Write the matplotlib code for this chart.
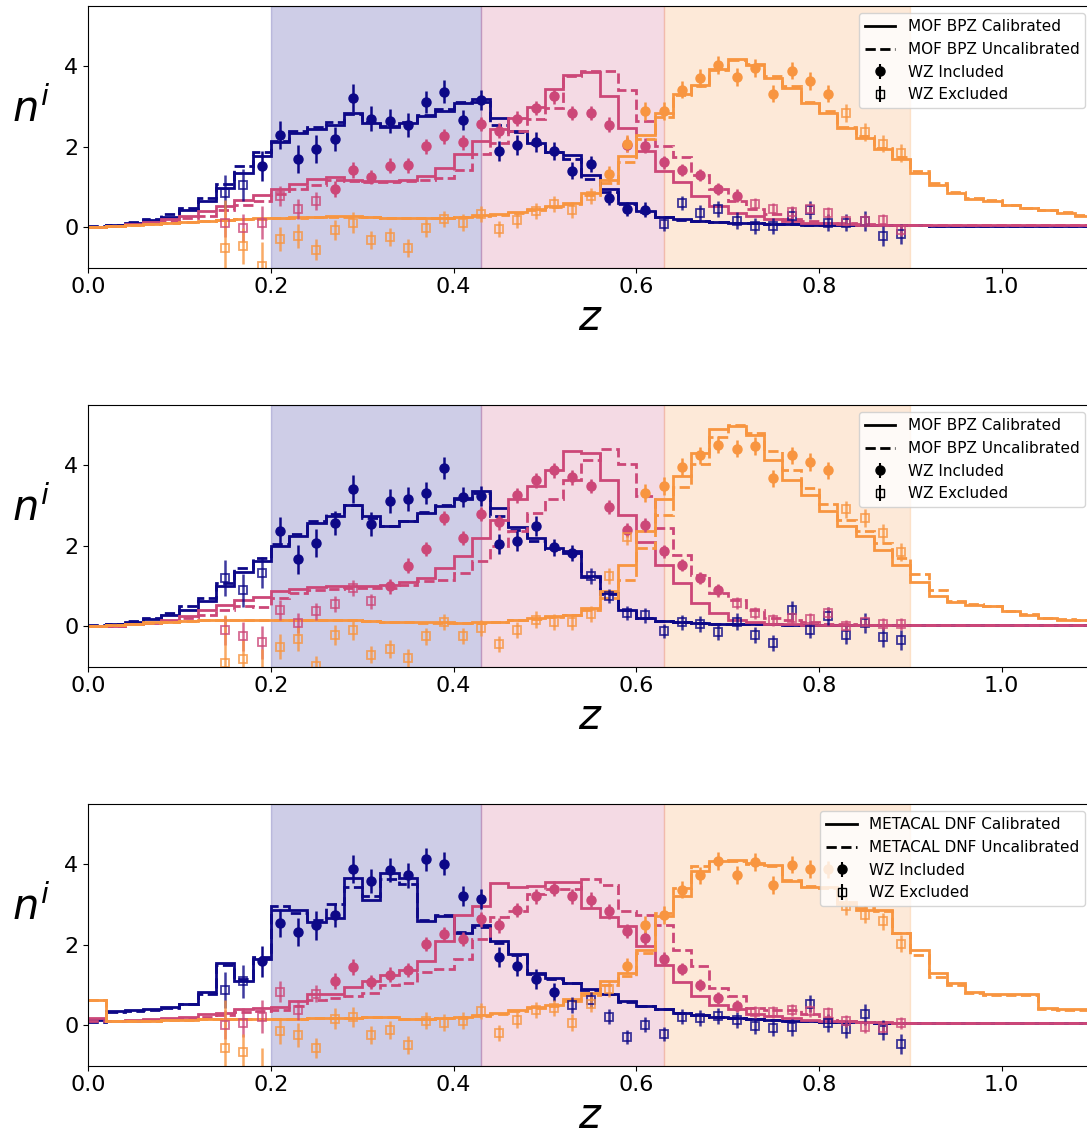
import numpy as np
import matplotlib
matplotlib.use('Agg')
import matplotlib.pyplot as plt

# histogram bin edges (width 0.02) and WZ redshifts
edges = np.round(np.arange(0.0, 1.1201, 0.02), 2)
wz_z = np.round(np.arange(0.15, 0.8901, 0.02), 2)

tomo_lo = [0.20, 0.43, 0.63]
tomo_hi = [0.43, 0.63, 0.90]
colors = ['#0d0887', '#cc4778', '#f89540']

# ---- MOF BPZ (panel 1) ----
p1_cal = [
    [0.02, 0.06, 0.12, 0.18, 0.25, 0.42, 0.65, 0.98, 1.35, 1.76,
     2.11, 2.34, 2.44, 2.55, 2.84, 2.59, 2.49, 2.58, 2.76, 2.88,
     3.09, 3.19, 2.72, 2.39, 2.10, 1.88, 1.80, 1.31, 0.94, 0.60,
     0.40, 0.26, 0.20, 0.16, 0.13, 0.12, 0.10, 0.09, 0.08, 0.07,
     0.06, 0.06, 0.05, 0.05, 0.05, 0.05, 0.04, 0.04, 0.04, 0.04,
     0.04, 0.04, 0.04, 0.04, 0.04, 0.04],
    [0.01, 0.04, 0.08, 0.13, 0.20, 0.29, 0.40, 0.54, 0.69, 0.81,
     0.95, 1.08, 1.20, 1.25, 1.18, 1.14, 1.14, 1.18, 1.28, 1.47,
     1.82, 2.14, 2.43, 2.72, 2.99, 3.44, 3.77, 3.85, 3.25, 2.47,
     1.89, 1.39, 1.12, 0.77, 0.52, 0.36, 0.27, 0.21, 0.15, 0.12,
     0.10, 0.08, 0.07, 0.06, 0.05, 0.05, 0.05, 0.05, 0.05, 0.05,
     0.05, 0.05, 0.05, 0.05, 0.05, 0.05],
    [0.01, 0.03, 0.06, 0.08, 0.11, 0.14, 0.17, 0.19, 0.21, 0.23,
     0.24, 0.25, 0.26, 0.27, 0.27, 0.25, 0.24, 0.23, 0.23, 0.24,
     0.26, 0.30, 0.33, 0.38, 0.45, 0.52, 0.60, 0.85, 1.18, 1.76,
     2.30, 2.84, 3.30, 3.54, 3.92, 4.18, 4.04, 3.71, 3.46, 3.09,
     2.84, 2.47, 2.22, 1.95, 1.70, 1.35, 1.06, 0.85, 0.70, 0.66,
     0.55, 0.48, 0.42, 0.36, 0.29, 0.23],
]
p1_uncal = [
    [0.03, 0.07, 0.14, 0.21, 0.32, 0.48, 0.72, 1.08, 1.52, 1.86,
     2.14, 2.38, 2.48, 2.62, 2.82, 2.62, 2.52, 2.62, 2.80, 2.94,
     3.12, 3.12, 2.55, 2.36, 2.08, 1.86, 1.70, 1.20, 0.88, 0.57,
     0.38, 0.25, 0.19, 0.15, 0.13, 0.11, 0.10, 0.09, 0.08, 0.07,
     0.06, 0.06, 0.05, 0.05, 0.05, 0.05, 0.04, 0.04, 0.04, 0.04,
     0.04, 0.04, 0.04, 0.04, 0.04, 0.04],
    [0.01, 0.03, 0.06, 0.10, 0.15, 0.23, 0.29, 0.42, 0.55, 0.65,
     0.84, 0.95, 1.06, 1.18, 1.14, 1.12, 1.12, 1.14, 1.18, 1.22,
     1.43, 1.81, 2.10, 2.39, 2.68, 2.96, 3.75, 3.89, 3.89, 3.42,
     2.63, 2.01, 1.75, 1.30, 0.95, 0.65, 0.45, 0.32, 0.22, 0.16,
     0.12, 0.10, 0.08, 0.07, 0.06, 0.05, 0.05, 0.05, 0.05, 0.05,
     0.05, 0.05, 0.05, 0.05, 0.05, 0.05],
    [0.01, 0.03, 0.05, 0.08, 0.10, 0.13, 0.16, 0.18, 0.20, 0.22,
     0.23, 0.24, 0.25, 0.26, 0.26, 0.25, 0.24, 0.23, 0.23, 0.24,
     0.25, 0.28, 0.31, 0.36, 0.42, 0.50, 0.58, 0.80, 1.10, 1.62,
     2.20, 2.75, 3.28, 3.50, 3.90, 4.15, 4.06, 3.75, 3.50, 3.12,
     2.88, 2.50, 2.26, 1.98, 1.74, 1.40, 1.10, 0.88, 0.72, 0.67,
     0.56, 0.49, 0.43, 0.37, 0.30, 0.24],
]
p1_wz = [
    [0.85, 1.06, 1.52, 2.30, 1.70, 1.95, 2.19, 3.21, 2.70, 2.63,
     2.55, 3.11, 3.37, 2.67, 3.17, 1.89, 2.05, 2.11, 1.89, 1.41,
     1.57, 0.73, 0.46, 0.44, 0.09, 0.60, 0.36, 0.46, 0.17, 0.04,
     0.04, 0.29, 0.44, 0.12, 0.12, 0.15, -0.21, -0.17],
    [0.12, -0.02, 0.12, 0.77, 0.46, 0.65, 0.96, 1.43, 1.25, 1.53,
     1.54, 2.01, 2.26, 2.11, 2.57, 2.40, 2.70, 2.96, 3.25, 2.84,
     2.84, 2.55, 2.05, 2.03, 1.61, 1.42, 1.29, 0.95, 0.79, 0.59,
     0.46, 0.37, 0.46, 0.36, 0.15, 0.17, 0.19, -0.07],
    [-0.51, -0.47, -0.97, -0.29, -0.21, -0.55, -0.07, 0.12, -0.32, -0.24,
     -0.51, -0.02, 0.21, 0.12, 0.33, -0.04, 0.19, 0.40, 0.59, 0.44,
     0.77, 1.33, 2.08, 2.88, 2.88, 3.42, 3.71, 4.02, 3.74, 3.96,
     3.32, 3.89, 3.63, 3.32, 2.84, 2.36, 2.08, 1.85],
]
p1_used = [(0.19, 0.61), (0.27, 0.71), (0.57, 0.81)]

# ---- MOF BPZ (panel 2) ----
p2_cal = [
    [0.02, 0.05, 0.11, 0.19, 0.28, 0.40, 0.62, 0.99, 1.34, 1.61,
     2.00, 2.24, 2.57, 2.75, 3.00, 2.73, 2.48, 2.61, 2.82, 2.98,
     3.15, 3.35, 2.94, 2.46, 2.19, 1.95, 1.86, 1.25, 0.84, 0.41,
     0.20, 0.13, 0.10, 0.08, 0.07, 0.06, 0.05, 0.05, 0.04, 0.04,
     0.04, 0.04, 0.03, 0.03, 0.03, 0.03, 0.03, 0.03, 0.03, 0.03,
     0.03, 0.03, 0.03, 0.03, 0.03, 0.03],
    [0.01, 0.02, 0.05, 0.09, 0.15, 0.26, 0.40, 0.54, 0.65, 0.73,
     0.87, 0.93, 0.98, 0.99, 0.99, 0.99, 1.03, 1.09, 1.20, 1.45,
     1.74, 2.19, 2.65, 3.15, 3.48, 3.88, 4.35, 4.29, 3.64, 2.77,
     2.09, 1.53, 1.08, 0.58, 0.33, 0.17, 0.10, 0.07, 0.05, 0.04,
     0.03, 0.03, 0.03, 0.03, 0.03, 0.03, 0.03, 0.03, 0.03, 0.03,
     0.03, 0.03, 0.03, 0.03, 0.03, 0.03],
    [0.01, 0.04, 0.07, 0.10, 0.12, 0.14, 0.16, 0.17, 0.17, 0.17,
     0.17, 0.17, 0.17, 0.16, 0.16, 0.14, 0.12, 0.11, 0.10, 0.10,
     0.09, 0.10, 0.12, 0.17, 0.21, 0.25, 0.29, 0.46, 0.87, 1.53,
     2.36, 3.15, 3.73, 4.31, 4.89, 4.97, 4.76, 4.14, 3.64, 3.27,
     2.86, 2.50, 2.24, 1.90, 1.53, 1.09, 0.76, 0.60, 0.54, 0.50,
     0.37, 0.29, 0.21, 0.17, 0.15, 0.14],
]
p2_uncal = [
    [0.03, 0.06, 0.13, 0.22, 0.32, 0.50, 0.70, 1.08, 1.45, 1.70,
     2.05, 2.30, 2.62, 2.80, 3.00, 2.70, 2.48, 2.62, 2.84, 3.00,
     3.18, 3.30, 2.73, 2.40, 2.12, 1.92, 1.82, 1.22, 0.80, 0.40,
     0.20, 0.13, 0.10, 0.08, 0.07, 0.06, 0.05, 0.05, 0.04, 0.04,
     0.04, 0.04, 0.03, 0.03, 0.03, 0.03, 0.03, 0.03, 0.03, 0.03,
     0.03, 0.03, 0.03, 0.03, 0.03, 0.03],
    [0.01, 0.02, 0.05, 0.08, 0.13, 0.20, 0.29, 0.40, 0.50, 0.48,
     0.71, 0.83, 0.90, 0.93, 0.95, 0.95, 0.95, 1.03, 1.12, 1.16,
     1.33, 1.61, 1.99, 2.36, 2.82, 3.15, 3.64, 4.14, 4.41, 4.02,
     3.23, 2.44, 1.78, 1.28, 0.83, 0.66, 0.40, 0.21, 0.17, 0.10,
     0.07, 0.05, 0.04, 0.03, 0.03, 0.03, 0.03, 0.03, 0.03, 0.03,
     0.03, 0.03, 0.03, 0.03, 0.03, 0.03],
    [0.01, 0.03, 0.06, 0.09, 0.11, 0.13, 0.15, 0.16, 0.16, 0.16,
     0.16, 0.16, 0.16, 0.15, 0.15, 0.13, 0.11, 0.10, 0.09, 0.09,
     0.08, 0.09, 0.11, 0.15, 0.19, 0.23, 0.27, 0.40, 0.70, 1.16,
     1.95, 2.77, 3.46, 4.02, 4.70, 5.00, 4.80, 4.35, 3.89, 3.44,
     3.04, 2.65, 2.36, 2.07, 1.70, 1.31, 0.89, 0.62, 0.55, 0.50,
     0.38, 0.30, 0.22, 0.18, 0.15, 0.14],
]
p2_wz = [
    [1.20, 0.89, 1.33, 2.36, 1.66, 2.07, 2.57, 3.40, 2.53, 3.11,
     3.16, 3.31, 3.93, 3.20, 3.23, 2.05, 2.11, 2.48, 1.96, 1.81,
     1.24, 0.75, 0.33, 0.27, -0.12, 0.10, 0.06, -0.15, 0.12, -0.22,
     -0.41, 0.40, -0.08, 0.25, -0.21, 0.08, -0.27, -0.33],
    [-0.10, -0.25, -0.40, 0.41, 0.08, 0.37, 0.56, 0.95, 0.62, 0.99,
     1.51, 1.92, 2.69, 2.19, 2.79, 2.58, 3.25, 3.62, 3.87, 3.70,
     3.48, 2.96, 2.39, 2.51, 1.86, 1.53, 1.20, 0.89, 0.58, 0.33,
     0.15, 0.21, 0.18, 0.33, 0.02, 0.10, 0.06, 0.07],
    [-0.91, -0.80, -1.15, -0.50, -0.31, -0.99, -0.21, -0.08, -0.70, -0.56,
     -0.79, -0.25, 0.10, -0.23, -0.04, -0.44, -0.10, 0.17, 0.10, 0.10,
     0.31, 1.24, 2.22, 3.31, 3.48, 3.96, 4.24, 4.51, 4.41, 4.47,
     3.67, 4.24, 4.07, 3.87, 2.90, 2.69, 2.32, 1.84],
]
p2_used = [(0.21, 0.53), (0.33, 0.69), (0.61, 0.81)]

# ---- METACAL DNF (panel 3) ----
p3_cal = [
    [0.14, 0.35, 0.37, 0.41, 0.46, 0.54, 0.82, 1.55, 1.09, 1.65,
     2.87, 2.87, 2.56, 2.67, 3.66, 3.12, 3.77, 3.66, 2.58, 2.72,
     2.29, 2.50, 2.09, 1.76, 1.30, 1.18, 1.05, 0.90, 0.79, 0.60,
     0.49, 0.41, 0.31, 0.25, 0.20, 0.18, 0.16, 0.14, 0.12, 0.10,
     0.09, 0.08, 0.08, 0.07, 0.07, 0.06, 0.06, 0.06, 0.05, 0.05,
     0.05, 0.05, 0.05, 0.05, 0.05, 0.05],
    [0.18, 0.12, 0.13, 0.15, 0.18, 0.22, 0.27, 0.31, 0.41, 0.43,
     0.46, 0.60, 0.79, 0.79, 0.95, 1.09, 1.26, 1.38, 1.59, 2.09,
     2.75, 2.95, 3.54, 3.44, 3.47, 3.55, 3.55, 2.92, 2.69, 2.46,
     1.96, 1.51, 1.07, 0.72, 0.51, 0.41, 0.27, 0.23, 0.19, 0.14,
     0.12, 0.10, 0.09, 0.08, 0.07, 0.06, 0.06, 0.06, 0.06, 0.06,
     0.06, 0.06, 0.06, 0.06, 0.06, 0.06],
    [0.64, 0.10, 0.11, 0.12, 0.13, 0.14, 0.15, 0.16, 0.16, 0.17,
     0.17, 0.17, 0.18, 0.18, 0.19, 0.20, 0.22, 0.16, 0.16, 0.18,
     0.20, 0.26, 0.31, 0.39, 0.46, 0.51, 0.65, 0.80, 1.09, 1.30,
     1.88, 2.71, 3.20, 3.83, 4.07, 4.10, 4.03, 3.98, 3.58, 3.44,
     3.44, 3.00, 2.87, 2.87, 2.29, 1.88, 1.30, 1.05, 0.84, 0.79,
     0.79, 0.79, 0.43, 0.41, 0.41, 0.40],
]
p3_uncal = [
    [0.08, 0.33, 0.35, 0.39, 0.44, 0.52, 0.78, 1.50, 1.14, 1.70,
     2.97, 2.80, 2.62, 3.02, 3.44, 3.20, 3.62, 3.50, 2.62, 2.74,
     2.32, 2.45, 2.05, 1.74, 1.28, 1.16, 1.04, 0.88, 0.78, 0.59,
     0.49, 0.41, 0.31, 0.25, 0.20, 0.18, 0.16, 0.14, 0.12, 0.10,
     0.09, 0.08, 0.08, 0.07, 0.07, 0.06, 0.06, 0.06, 0.05, 0.05,
     0.05, 0.05, 0.05, 0.05, 0.05, 0.05],
    [0.12, 0.10, 0.11, 0.13, 0.15, 0.18, 0.22, 0.26, 0.32, 0.36,
     0.38, 0.48, 0.62, 0.67, 0.72, 0.80, 1.01, 1.06, 1.32, 1.40,
     1.65, 2.14, 2.69, 2.83, 3.25, 3.39, 3.39, 3.62, 3.49, 2.83,
     2.75, 2.50, 1.88, 1.47, 0.93, 0.72, 0.43, 0.39, 0.37, 0.27,
     0.18, 0.12, 0.09, 0.08, 0.07, 0.06, 0.06, 0.06, 0.06, 0.06,
     0.06, 0.06, 0.06, 0.06, 0.06, 0.06],
    [0.64, 0.10, 0.11, 0.12, 0.13, 0.14, 0.15, 0.16, 0.16, 0.17,
     0.17, 0.17, 0.18, 0.18, 0.19, 0.20, 0.22, 0.16, 0.16, 0.18,
     0.19, 0.24, 0.29, 0.36, 0.42, 0.48, 0.60, 0.75, 1.00, 1.22,
     1.80, 2.80, 3.40, 3.95, 4.07, 4.08, 4.00, 3.95, 3.60, 3.45,
     3.40, 3.05, 2.90, 2.85, 2.30, 1.75, 1.20, 1.00, 0.80, 0.75,
     0.76, 0.76, 0.40, 0.38, 0.38, 0.38],
]
p3_wz = [
    [0.87, 1.09, 1.59, 2.54, 2.31, 2.48, 2.73, 3.88, 3.58, 3.85,
     3.72, 4.12, 4.01, 3.22, 3.14, 1.70, 1.47, 1.15, 0.82, 0.51,
     0.64, 0.22, -0.29, 0.02, -0.22, 0.22, 0.18, 0.24, 0.14, -0.01,
     -0.07, -0.05, 0.54, 0.06, -0.09, 0.27, -0.11, -0.46],
    [0.02, 0.07, 0.22, 0.84, 0.39, 0.79, 1.09, 1.44, 1.07, 1.26,
     1.37, 2.02, 2.27, 2.14, 2.63, 2.48, 2.86, 3.20, 3.39, 3.20,
     3.12, 2.83, 2.34, 2.17, 1.65, 1.40, 1.01, 0.68, 0.49, 0.33,
     0.33, 0.39, 0.36, 0.31, 0.10, -0.04, -0.07, 0.06],
    [-0.56, -0.66, -1.15, -0.15, -0.23, -0.56, 0.17, 0.21, -0.23, -0.11,
     -0.48, 0.12, 0.07, 0.12, 0.35, -0.19, 0.14, 0.39, 0.43, 0.07,
     0.54, 0.90, 1.47, 2.50, 2.73, 3.37, 3.72, 4.07, 3.74, 4.05,
     3.49, 3.99, 3.88, 3.87, 2.96, 2.75, 2.58, 2.03],
]
p3_used = [(0.19, 0.51), (0.27, 0.71), (0.59, 0.81)]

wz_err = [
    [0.45, 0.40, 0.38, 0.35, 0.35, 0.35, 0.30, 0.35, 0.30, 0.30,
     0.30, 0.28, 0.28, 0.25, 0.25, 0.25, 0.25, 0.25, 0.22, 0.20,
     0.20, 0.18, 0.18, 0.18, 0.18, 0.18, 0.20, 0.20, 0.20, 0.20,
     0.20, 0.22, 0.22, 0.22, 0.22, 0.25, 0.25, 0.25],
    [0.35, 0.35, 0.40, 0.25, 0.25, 0.22, 0.20, 0.20, 0.18, 0.18,
     0.18, 0.18, 0.18, 0.18, 0.18, 0.18, 0.18, 0.18, 0.18, 0.18,
     0.18, 0.18, 0.18, 0.18, 0.16, 0.15, 0.15, 0.15, 0.15, 0.15,
     0.15, 0.15, 0.15, 0.15, 0.15, 0.15, 0.15, 0.15],
    [1.20, 0.45, 0.60, 0.30, 0.30, 0.25, 0.25, 0.25, 0.22, 0.22,
     0.22, 0.22, 0.20, 0.20, 0.20, 0.20, 0.20, 0.20, 0.20, 0.20,
     0.20, 0.20, 0.20, 0.22, 0.22, 0.22, 0.22, 0.22, 0.22, 0.22,
     0.22, 0.22, 0.22, 0.22, 0.22, 0.22, 0.22, 0.22],
]

panels = [
    ('MOF BPZ', p1_cal, p1_uncal, p1_wz, p1_used),
    ('MOF BPZ', p2_cal, p2_uncal, p2_wz, p2_used),
    ('METACAL DNF', p3_cal, p3_uncal, p3_wz, p3_used),
]

fig = plt.figure(figsize=(10.87, 11.4), dpi=100)
bottoms = [0.7652, 0.4152, 0.0652]

for (name, cal, uncal, wz, used), b in zip(panels, bottoms):
    ax = fig.add_axes([0.081, b, 0.9246, 0.2298])
    for i in range(3):
        ax.axvspan(tomo_lo[i], tomo_hi[i], color=colors[i], alpha=0.2)
    for i in range(3):
        c = colors[i]
        ax.stairs(cal[i], edges, baseline=None, color=c, lw=2)
        ax.stairs(uncal[i], edges, baseline=None, color=c, lw=2, ls='--')
        y = np.array(wz[i])
        e = np.array(wz_err[i])
        inc = (wz_z >= used[i][0] - 1e-6) & (wz_z <= used[i][1] + 1e-6)
        ax.errorbar(wz_z[inc], y[inc], yerr=e[inc], fmt='o', color=c,
                    ms=6.5, elinewidth=1.8, capsize=0)
        ax.errorbar(wz_z[~inc], y[~inc], yerr=e[~inc], fmt='s', color=c,
                    mfc='none', mew=1.3, ms=6, elinewidth=1.8, capsize=0, alpha=0.8)

    ax.plot([], [], 'k-', lw=2, label=name + ' Calibrated')
    ax.plot([], [], 'k--', lw=2, label=name + ' Uncalibrated')
    ax.errorbar([], [], yerr=[], fmt='o', color='k', ms=6.5, label='WZ Included')
    ax.errorbar([], [], yerr=[], fmt='s', color='k', mfc='none', ms=6, label='WZ Excluded')
    ax.legend(loc='upper right', fontsize=11)

    ax.set_xlim(0, 1.1)
    ax.set_ylim(-1, 5.5)
    ax.set_xticks([0.0, 0.2, 0.4, 0.6, 0.8, 1.0])
    ax.set_yticks([0, 2, 4])
    ax.tick_params(labelsize=16)
    ax.set_xlabel('$z$', fontsize=30, labelpad=0)
    ax.set_ylabel('$n^i$', fontsize=30, rotation=0)
    ax.yaxis.set_label_coords(-0.057, 0.52)

fig.savefig('out.png', dpi=100)
